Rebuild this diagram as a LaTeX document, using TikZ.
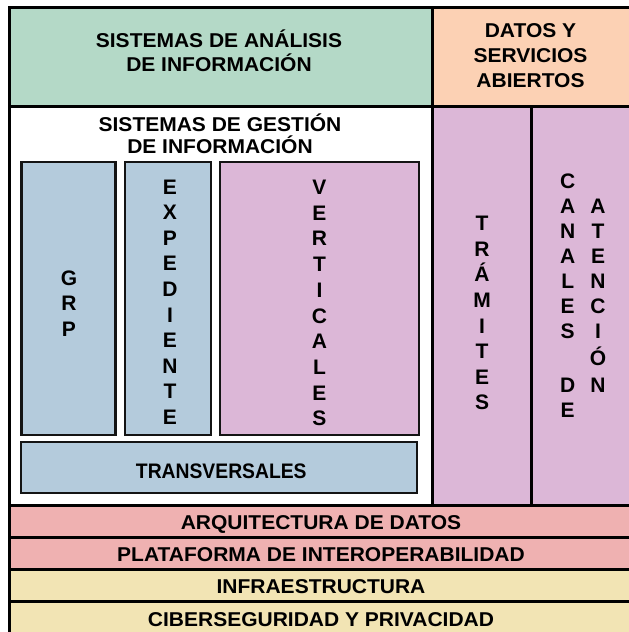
\documentclass[tikz,border=0pt]{standalone}
\usepackage{fontspec}
\newfontfamily\hdfont{Liberation Sans}[FakeStretch=1.05]
\newfontfamily\trfont{Liberation Sans}[FakeStretch=0.92]
\newfontfamily\vtfont{Liberation Sans}
\definecolor{cGreen}{HTML}{B4D9C7}
\definecolor{cPeach}{HTML}{FCD1B4}
\definecolor{cPink}{HTML}{DCB7D7}
\definecolor{cBlue}{HTML}{B4CBDC}
\definecolor{cRed}{HTML}{EFB1B1}
\definecolor{cYellow}{HTML}{F2E4B4}
\begin{document}
\begin{tikzpicture}[x=1pt,y=-1pt,
  cell/.style={draw=black, line width=3pt, inner sep=0pt, outer sep=0pt},
  sub/.style={draw=black!92, line width=2.3pt, inner sep=0pt, outer sep=0pt},
  hd/.style={font=\hdfont\bfseries\fontsize{20}{24}\selectfont, inner sep=0pt, anchor=base, text=black},
  tr/.style={font=\trfont\bfseries\fontsize{21}{24}\selectfont, inner sep=0pt, anchor=base, text=black},
  vt/.style={font=\vtfont\bfseries\fontsize{21}{25}\selectfont, inner sep=0pt, anchor=base, text=black}]
\useasboundingbox (0,0) rectangle (629,632);
% main cells
\node[cell, fill=cGreen, minimum width=423pt, minimum height=99pt] (analisis) at (220.5,56.5) {};
\node[cell, fill=cPeach, minimum width=200pt, minimum height=99pt] (datos) at (532,56.5) {};
\node[cell, fill=white, minimum width=423pt, minimum height=399pt] (gestion) at (220.5,305.5) {};
\node[cell, fill=cPink, minimum width=99pt, minimum height=399pt] (tramites) at (481.5,305.5) {};
\node[cell, fill=cPink, minimum width=101pt, minimum height=399pt] (canales) at (581.5,305.5) {};
% bands
\node[cell, fill=cRed, minimum width=623pt, minimum height=32pt] (arq) at (320.5,521) {};
\node[cell, fill=cRed, minimum width=623pt, minimum height=32pt] (plat) at (320.5,553) {};
\node[cell, fill=cYellow, minimum width=623pt, minimum height=32.5pt] (infra) at (320.5,585.25) {};
\node[cell, fill=cYellow, minimum width=623pt, minimum height=32.5pt] (ciber) at (320.5,617.75) {};
% inner boxes
\node[sub, fill=cBlue, minimum width=94pt, minimum height=273pt] (grp) at (68.5,298.5) {};
\node[sub, fill=cBlue, minimum width=86pt, minimum height=273pt] (exp) at (168,298.5) {};
\node[sub, fill=cPink, minimum width=199pt, minimum height=273pt] (vert) at (319.5,298.5) {};
\node[sub, fill=cBlue, minimum width=396pt, minimum height=51pt] (trans) at (219,467.5) {};
% headings
\node[hd] (t-an1) at (219,47.7) {SISTEMAS DE ANÁLISIS};
\node[hd] (t-an2) at (219,71.7) {DE INFORMACIÓN};
\node[hd] (t-da1) at (530.5,37.7) {DATOS Y};
\node[hd] (t-da2) at (530.5,62.7) {SERVICIOS};
\node[hd] (t-da3) at (530.5,87.7) {ABIERTOS};
\node[hd] (t-ge1) at (220,131) {SISTEMAS DE GESTIÓN};
\node[hd] (t-ge2) at (220,153.3) {DE INFORMACIÓN};
\node[tr] (t-tr) at (221.3,478.3) {TRANSVERSALES};
\node[hd] (t-arq) at (321,529.5) {ARQUITECTURA DE DATOS};
\node[hd] (t-plat) at (321,561.5) {PLATAFORMA DE INTEROPERABILIDAD};
\node[hd] (t-infra) at (321,593.5) {INFRAESTRUCTURA};
\node[hd] (t-ciber) at (321,626) {CIBERSEGURIDAD Y PRIVACIDAD};
% vertical words
\foreach \c [count=\i from 0] in {G,R,P}
  \node[vt] (grp\i) at (69,285+25.5*\i) {\c};
\foreach \c [count=\i from 0] in {E,X,P,E,D,I,E,N,T,E}
  \node[vt] (exp\i) at (170,194.3+25.55*\i) {\c};
\foreach \c [count=\i from 0] in {V,E,R,T,I,C,A,L,E,S}
  \node[vt] (vert\i) at (319.5,194.5+25.7*\i) {\c};
\foreach \c [count=\i from 0] in {T,R,Á,M,I,T,E,S}
  \node[vt] (tram\i) at (482,230.7+25.6*\i) {\c};
\foreach \c/\y [count=\i from 0] in {C/188,A/213,N/238,A/263,L/288,E/313,S/338,D/392,E/417}
  \node[vt] (canA\i) at (567.7,\y) {\c};
\foreach \c/\y [count=\i from 0] in {A/213,T/238,E/263,N/288,C/313,I/338,Ó/365,N/392}
  \node[vt] (canB\i) at (598,\y) {\c};
\end{tikzpicture}
\end{document}
